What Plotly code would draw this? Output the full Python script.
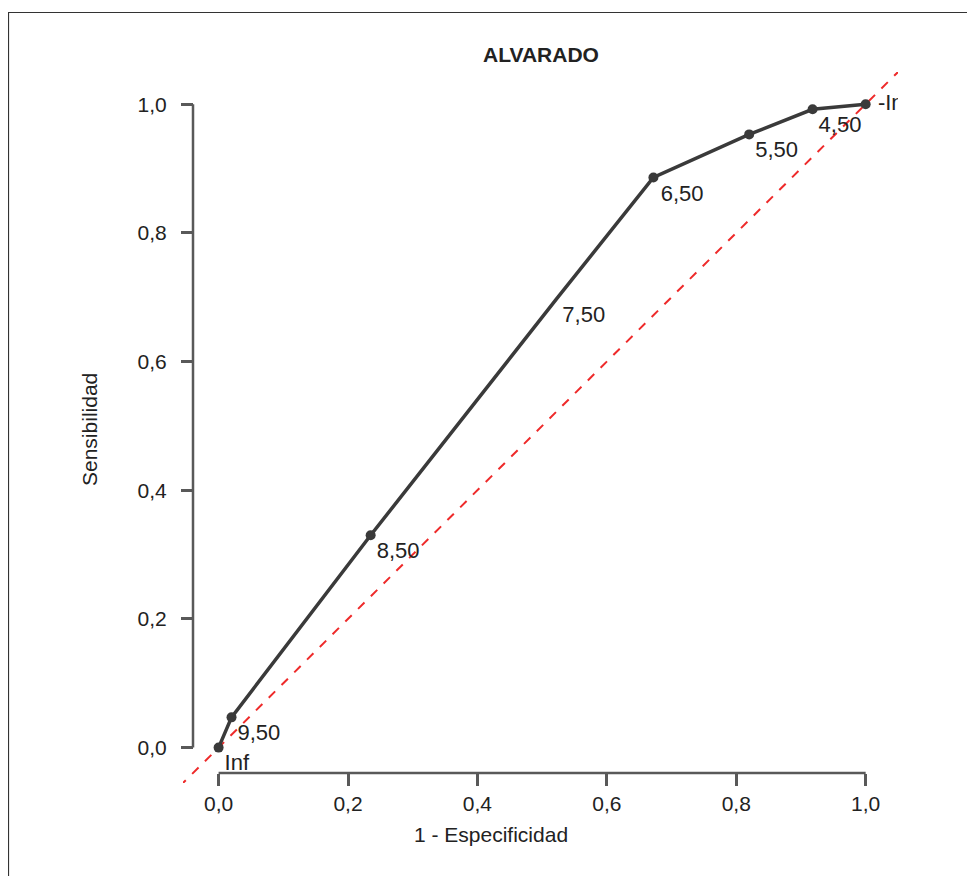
import plotly.graph_objects as go

# ---- data ----
fpr = [0.0, 0.020, 0.235, 0.522, 0.672, 0.820, 0.918, 1.0]
tpr = [0.0, 0.047, 0.330, 0.697, 0.886, 0.953, 0.992, 1.0]
thresholds = ["Inf", "9,50", "8,50", "7,50", "6,50", "5,50", "4,50", "-Inf"]
diag = [-0.1, 1.1]
tick_vals = [0.0, 0.2, 0.4, 0.6, 0.8, 1.0]
tick_text = ["0,0", "0,2", "0,4", "0,6", "0,8", "1,0"]
title = "ALVARADO"
x_title = "1 - Especificidad"
y_title = "Sensibilidad"

# ---- style ----
FONT = "Liberation Sans, Arial, sans-serif"
FS = 21
LINE_C = "#3a3a3a"
AX_C = "#595959"
TXT_C = "#222222"
marker_sizes = [10, 10, 10, 0, 10, 10, 10, 10]
text_pos = ["bottom right"] * 7 + ["middle right"]
text_marker_sizes = [8, 8, 8, 8, 10, 8, 8, 18]

# page body has an 8px margin; coordinates below are reference pixels minus 8
OFF = 8
W, H = 975 - OFF, 876 - OFF
L, R, T, B = 183 - OFF, 898 - OFF, 72 - OFF, 783 - OFF
pw, ph = R - L, B - T

def px_x(p):
    return (p - OFF - L) / pw

def px_y(p):
    return (B - (p - OFF)) / ph

fig = go.Figure()

fig.add_trace(go.Scatter(
    x=diag, y=diag, mode="lines",
    line=dict(color="#ee2a2a", width=2, dash="dash"),
    hoverinfo="skip", cliponaxis=True,
))

fig.add_trace(go.Scatter(
    x=fpr, y=tpr, mode="lines+markers",
    line=dict(color=LINE_C, width=3.5),
    marker=dict(color=LINE_C, size=marker_sizes, line=dict(width=0), opacity=1),
    cliponaxis=False,
))

fig.add_trace(go.Scatter(
    x=fpr, y=tpr, mode="markers+text", text=thresholds,
    textposition=text_pos,
    textfont=dict(family=FONT, size=22, color=TXT_C),
    marker=dict(color="rgba(0,0,0,0)", size=text_marker_sizes, line=dict(width=0)),
    cliponaxis=True, hoverinfo="skip",
))

xpos = px_y(773)
ypos = px_x(193)

tickfont = dict(family=FONT, size=FS, color=TXT_C)

fig.update_layout(
    width=W, height=H,
    margin=dict(l=L, r=W - R, t=T, b=H - B, pad=0),
    paper_bgcolor="white", plot_bgcolor="white",
    showlegend=False,
    font=dict(family=FONT, size=FS, color=TXT_C),
    xaxis=dict(
        range=[-0.055, 1.05], domain=[0, 1], anchor="free", position=xpos,
        showgrid=False, zeroline=False, showline=False,
        tickvals=tick_vals, ticktext=tick_text,
        ticks="outside", ticklen=12, tickwidth=2.5, tickcolor=AX_C,
        tickfont=tickfont,
    ),
    yaxis=dict(
        range=[-0.055, 1.05], domain=[0, 1], anchor="free", position=ypos,
        showgrid=False, zeroline=False, showline=False,
        tickvals=tick_vals, ticktext=tick_text,
        ticks="outside", ticklen=12, tickwidth=2.5, tickcolor=AX_C,
        tickfont=tickfont, ticklabelstandoff=10,
    ),
    shapes=[
        dict(type="line", xref="x", yref="paper", x0=0, x1=1, y0=xpos, y1=xpos,
             line=dict(color=AX_C, width=2.5)),
        dict(type="line", xref="paper", yref="y", x0=ypos, x1=ypos, y0=0, y1=1,
             line=dict(color=AX_C, width=2.5)),
        dict(type="rect", xref="paper", yref="paper",
             x0=px_x(8.5), x1=px_x(1100), y0=px_y(12.5), y1=px_y(1000),
             line=dict(color="#333333", width=1.2)),
    ],
    annotations=[
        dict(text="<b>" + title + "</b>", xref="paper", yref="paper",
             x=px_x(541), y=px_y(54), xanchor="center", yanchor="middle",
             showarrow=False, font=dict(family=FONT, size=FS, color=TXT_C)),
        dict(text=x_title, xref="paper", yref="paper",
             x=px_x(491), y=px_y(834), xanchor="center", yanchor="middle",
             showarrow=False, font=dict(family=FONT, size=FS, color=TXT_C)),
        dict(text=y_title, xref="paper", yref="paper", textangle=-90,
             x=px_x(90), y=px_y(430), xanchor="center", yanchor="middle",
             showarrow=False, font=dict(family=FONT, size=FS, color=TXT_C)),
    ],
)

fig.write_html("out.html")
